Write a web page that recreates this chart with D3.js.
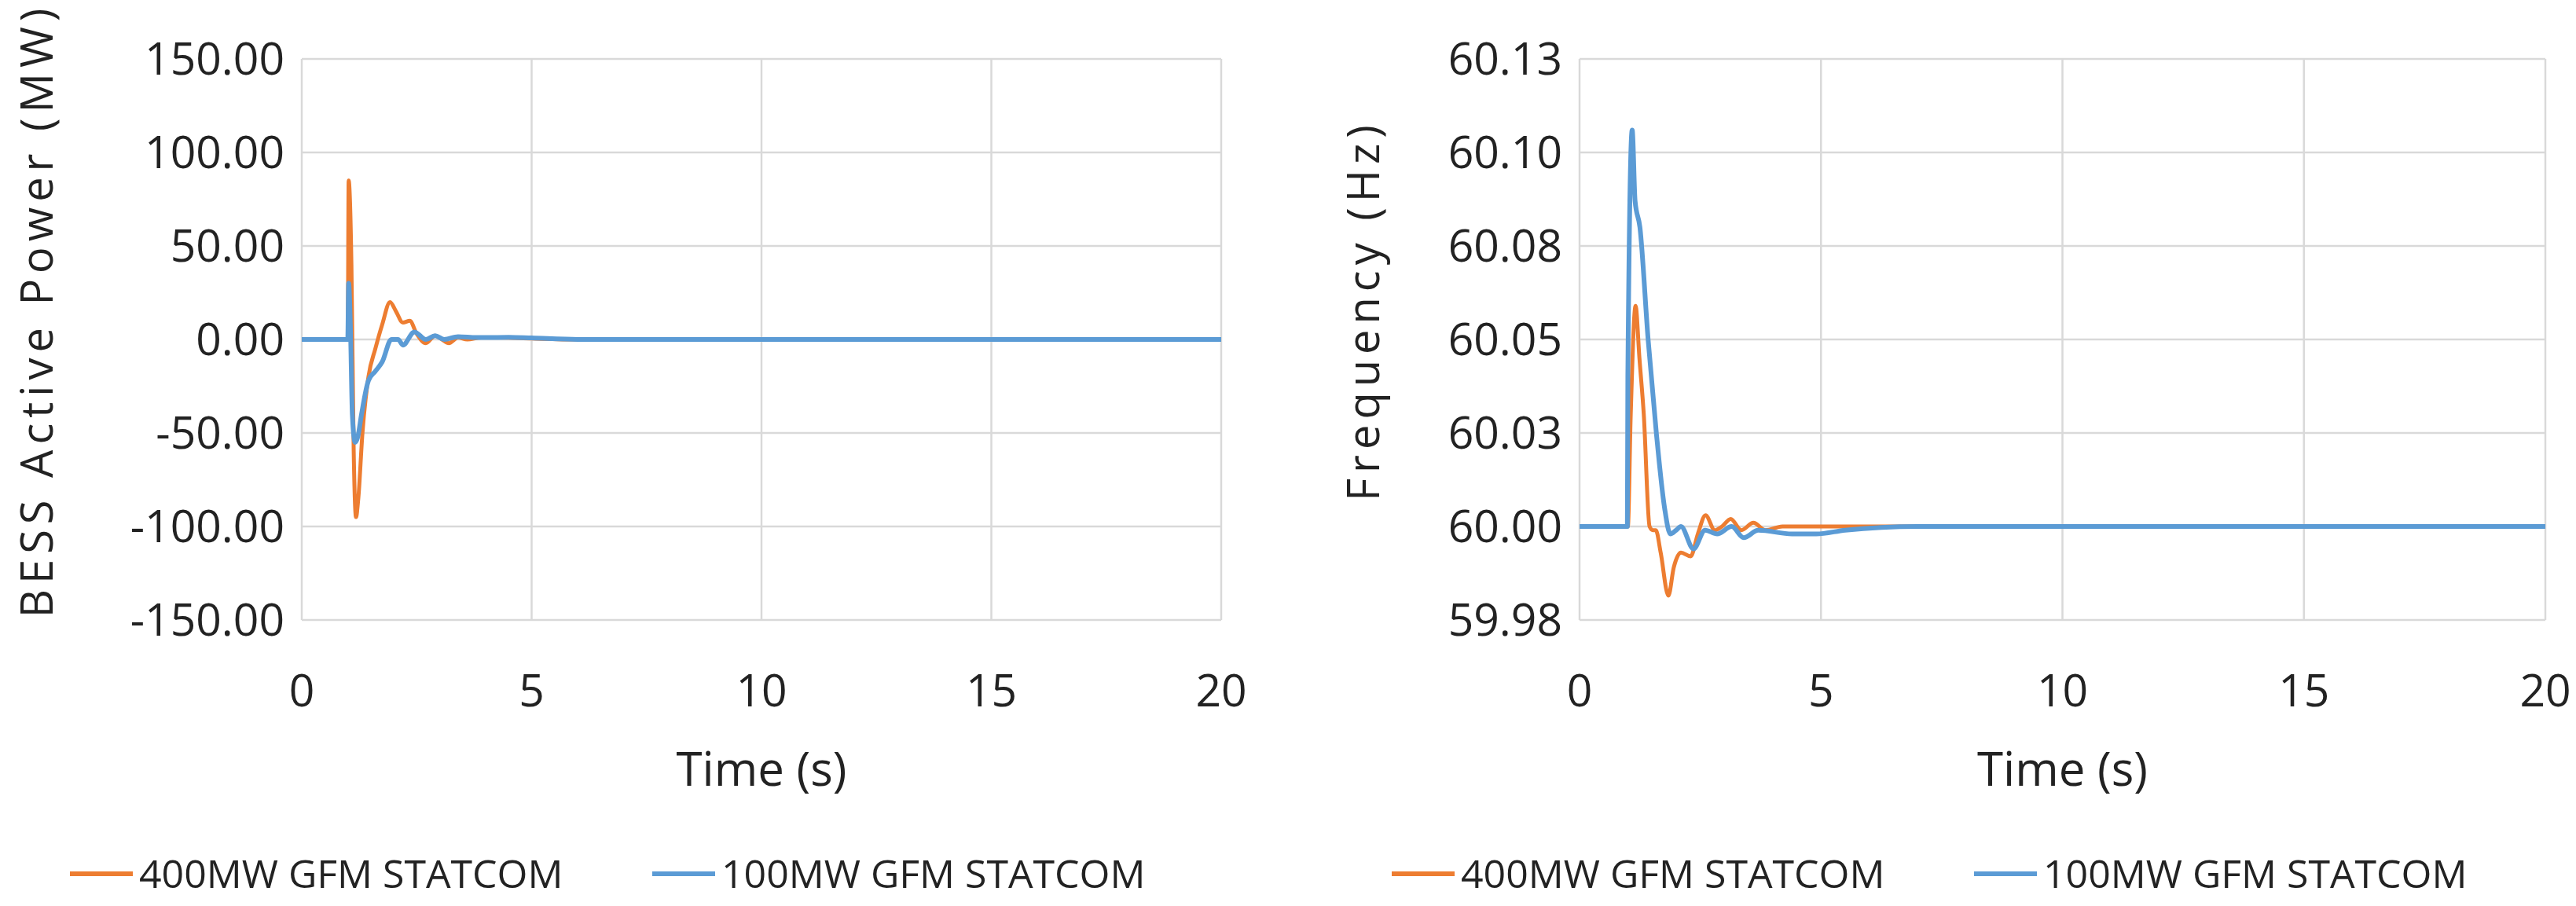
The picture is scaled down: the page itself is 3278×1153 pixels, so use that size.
<!DOCTYPE html>
<html><head><meta charset="utf-8">
<script src="https://cdn.jsdelivr.net/npm/d3@7"></script>
<style>body{margin:0;background:#fff}text{font-family:"Open Sans",sans-serif;fill:#222}</style>
</head><body><svg id="c" width="3278" height="1153"></svg>
<script>
const seriesNames = ["400MW GFM STATCOM", "100MW GFM STATCOM"];
const xTicks = [0, 5, 10, 15, 20];
const powerTicks = [-150, -100, -50, 0, 50, 100, 150];
const freqTicks = [59.975, 60.0, 60.025, 60.05, 60.075, 60.1, 60.125];
const power400 = [[0,0],[1.0,0],[1.02,85],[1.08,40],[1.13,-60],[1.18,-95],[1.23,-85],[1.32,-50],[1.45,-20],[1.6,-5],[1.75,8],[1.92,20],[2.05,15],[2.2,9],[2.35,10],[2.5,3],[2.7,-2],[2.9,2],[3.05,0],[3.2,-2],[3.4,1],[3.6,0],[3.9,1],[4.3,1],[5,0.5],[6,0],[20,0]];
const power100 = [[0,0],[1.0,0],[1.02,30],[1.06,5],[1.1,-40],[1.16,-55],[1.22,-52],[1.3,-40],[1.45,-22],[1.6,-17],[1.75,-12],[1.95,0],[2.1,0],[2.2,-3],[2.45,4],[2.7,0],[2.9,2],[3.1,0],[3.4,1.5],[3.8,1],[4.5,1.2],[5,0.8],[6,0],[20,0]];
const freq400 = [[0,60],[1.0,60],[1.06,60.03],[1.16,60.059],[1.24,60.045],[1.33,60.03],[1.45,60.0],[1.52,59.999],[1.58,59.999],[1.68,59.993],[1.84,59.9815],[1.95,59.989],[2.1,59.993],[2.3,59.992],[2.45,59.998],[2.61,60.003],[2.8,59.999],[2.95,60.0],[3.13,60.002],[3.35,59.999],[3.6,60.001],[3.85,59.999],[4.2,60.0],[20,60]];
const freq100 = [[0,60],[0.99,60],[1.0,60.04],[1.09,60.106],[1.15,60.087],[1.25,60.08],[1.42,60.05],[1.59,60.025],[1.76,60.005],[1.88,59.998],[2.0,59.999],[2.1,60.0],[2.36,59.994],[2.6,59.999],[2.85,59.998],[3.15,60.0],[3.4,59.997],[3.7,59.999],[4.4,59.998],[4.9,59.998],[5.5,59.999],[7,60],[20,60]];

const svg = d3.select("#c");
const colors = ["#ED7D31", "#5B9BD5"];

function panel(o) {
  const g = svg.append("g");
  const x = d3.scaleLinear().domain([0, 20]).range([o.x0, o.x1]);
  const y = d3.scaleLinear().domain(o.domain).range([789, 75]);
  g.append("g").selectAll("line").data(o.yt).join("line")
    .attr("x1", o.x0).attr("x2", o.x1).attr("y1", d => y(d)).attr("y2", d => y(d))
    .attr("stroke", "#d9d9d9").attr("stroke-width", 2.5);
  g.append("g").selectAll("line").data(xTicks).join("line")
    .attr("x1", d => x(d)).attr("x2", d => x(d)).attr("y1", 75).attr("y2", 789)
    .attr("stroke", "#d9d9d9").attr("stroke-width", 2.5);
  g.append("g").selectAll("text").data(o.yt).join("text")
    .attr("x", o.x0 - 22).attr("y", d => y(d)).attr("dy", "0.35em").attr("text-anchor", "end")
    .attr("font-size", 57).text(o.fmt);
  g.append("g").selectAll("text").data(xTicks).join("text")
    .attr("x", d => x(d)).attr("y", 879).attr("dy", "0.35em").attr("text-anchor", "middle")
    .attr("font-size", 57).text(d => d);
  g.append("text").attr("x", (o.x0 + o.x1) / 2).attr("y", 979).attr("dy", "0.35em")
    .attr("text-anchor", "middle").attr("font-size", 60).text("Time (s)");
  g.append("text").attr("transform", `translate(${o.ylx},${o.lcy}) rotate(-90)`)
    .attr("text-anchor", "middle").attr("dy", "0.35em").attr("font-size", 56)
    .attr("letter-spacing", 7).text(o.ylabel);
  const line = d3.line().x(d => x(d[0])).y(d => y(d[1])).curve(d3.curveMonotoneX);
  [o.s0, o.s1].forEach((s, i) => {
    g.append("path").datum(s).attr("d", line).attr("fill", "none")
      .attr("stroke", colors[i]).attr("stroke-width", i ? 6 : 5).attr("stroke-linejoin", "round");
  });
  o.leg.forEach((lx, i) => {
    g.append("line").attr("x1", lx).attr("x2", lx + 80).attr("y1", 1112).attr("y2", 1112)
      .attr("stroke", colors[i]).attr("stroke-width", 6);
    g.append("text").attr("x", lx + 88).attr("y", 1112).attr("dy", "0.35em")
      .attr("font-size", 50).text(seriesNames[i]);
  });
}
panel({x0: 384, x1: 1554, domain: [-150, 150], yt: powerTicks, fmt: d => d3.format(".2f")(d).replace("\u2212", "-"),
  ylx: 47, lcy: 395, ylabel: "BESS Active Power (MW)", s0: power400, s1: power100, leg: [89, 830]});
panel({x0: 2010, x1: 3239, domain: [59.975, 60.125], yt: freqTicks, fmt: d => (Math.round(d * 100) / 100).toFixed(2),
  ylx: 1735, lcy: 395, ylabel: "Frequency (Hz)", s0: freq400, s1: freq100, leg: [1771, 2512]});
</script></body></html>
